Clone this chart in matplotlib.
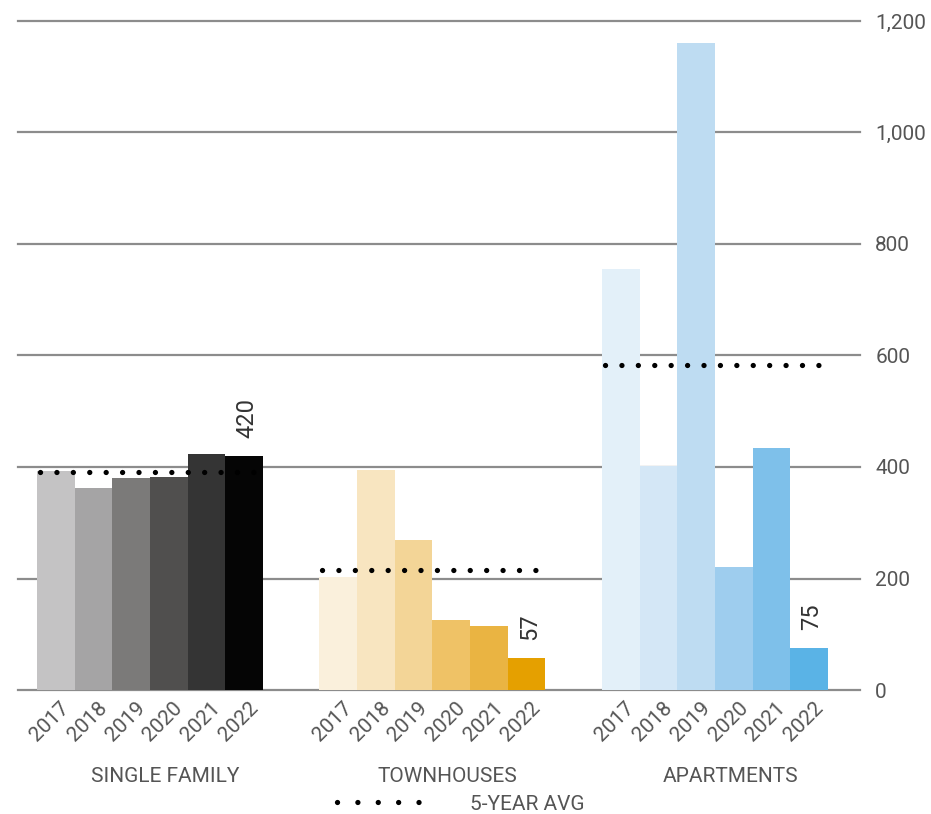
import numpy as np
import matplotlib
matplotlib.use('Agg')
import matplotlib.pyplot as plt
from matplotlib import ticker, transforms
from matplotlib.lines import Line2D

plt.rcParams['font.family'] = ['Roboto', 'DejaVu Sans']

years = ['2017', '2018', '2019', '2020', '2021', '2022']
categories = ['SINGLE FAMILY', 'TOWNHOUSES', 'APARTMENTS']
single_family = [393, 363, 380, 382, 424, 420]
townhouses = [203, 395, 269, 126, 115, 57]
apartments = [755, 402, 1161, 221, 434, 75]
five_year_avg = [391, 215, 583]
latest_labels = ['420', '57', '75']

sf_colors = ['#c4c3c4', '#a5a4a5', '#7b7a79', '#504f4e', '#343434', '#050505']
th_colors = ['#faf0dc', '#f8e5c0', '#f3d597', '#efc266', '#eab442', '#e5a000']
apt_colors = ['#e3f0f9', '#d4e7f6', '#bedcf2', '#9ecdee', '#7ec0ea', '#5ab3e6']

series = [single_family, townhouses, apartments]
palettes = [sf_colors, th_colors, apt_colors]

grey_txt = '#555555'
group_step = 7.5
n = len(years)

fig = plt.figure(figsize=(9.31, 8.14), dpi=100)
ax = fig.add_axes([18/931, 124/814, 842/931, 669/814])

# dotted pattern for the average lines
avg_style = dict(color='black', lw=3.8, linestyle=(0, (0.01, 3.1)),
                 dash_capstyle='round', solid_capstyle='round')

xticks, xlabels = [], []
for g, (vals, cols) in enumerate(zip(series, palettes)):
    x = g * group_step + np.arange(n)
    ax.bar(x, vals, width=1.0, color=cols, zorder=2)
    xticks += list(x)
    xlabels += years
    ax.plot([x[0] - 0.42, x[-1] + 0.4], [five_year_avg[g]] * 2, zorder=3, **avg_style)
    ax.annotate(latest_labels[g], xy=(x[-1], vals[-1]), xytext=(2, 13),
                textcoords='offset points', rotation=90, ha='center', va='bottom',
                fontsize=17, color='#333333')
    ax.annotate(categories[g], xy=(x.mean() + 0.4, 0), xytext=(0, -62),
                textcoords='offset points', ha='center', va='center',
                fontsize=15, color=grey_txt)

ax.set_xlim(-1.0, 2 * group_step + n - 0.5 + 0.85)
ax.set_ylim(0, 1200)
ax.set_yticks(np.arange(0, 1201, 200))
ax.yaxis.set_major_formatter(ticker.StrMethodFormatter('{x:,.0f}'))
ax.yaxis.tick_right()
ax.tick_params(axis='y', length=0, pad=11, labelsize=15, labelcolor=grey_txt)

ax.set_xticks(xticks)
ax.set_xticklabels(xlabels, rotation=45, ha='right', va='top', rotation_mode='anchor',
                   fontsize=15, color=grey_txt)
ax.tick_params(axis='x', length=0, pad=6)
shift = transforms.ScaledTranslation(3/72, 0, fig.dpi_scale_trans)
for lbl in ax.get_xticklabels():
    lbl.set_transform(lbl.get_transform() + shift)

ax.grid(axis='y', color='#8c8c8c', lw=1.6, zorder=1)
for gl in ax.get_ygridlines():
    gl.set_clip_on(False)
ax.set_axisbelow(True)
for s in ax.spines.values():
    s.set_visible(False)

# legend key: six dots, a little wider apart
key = Line2D([], [], color='black', lw=3.8, linestyle=(0, (0.01, 3.85)),
             dash_capstyle='round')
fig.legend([key], ['5-YEAR AVG'], loc='center', bbox_to_anchor=(0.495, 0.012),
           frameon=False, handlelength=4.3, handletextpad=2.1, borderpad=0,
           prop={'size': 15}, labelcolor=grey_txt)

fig.savefig('out.png', dpi=100)
